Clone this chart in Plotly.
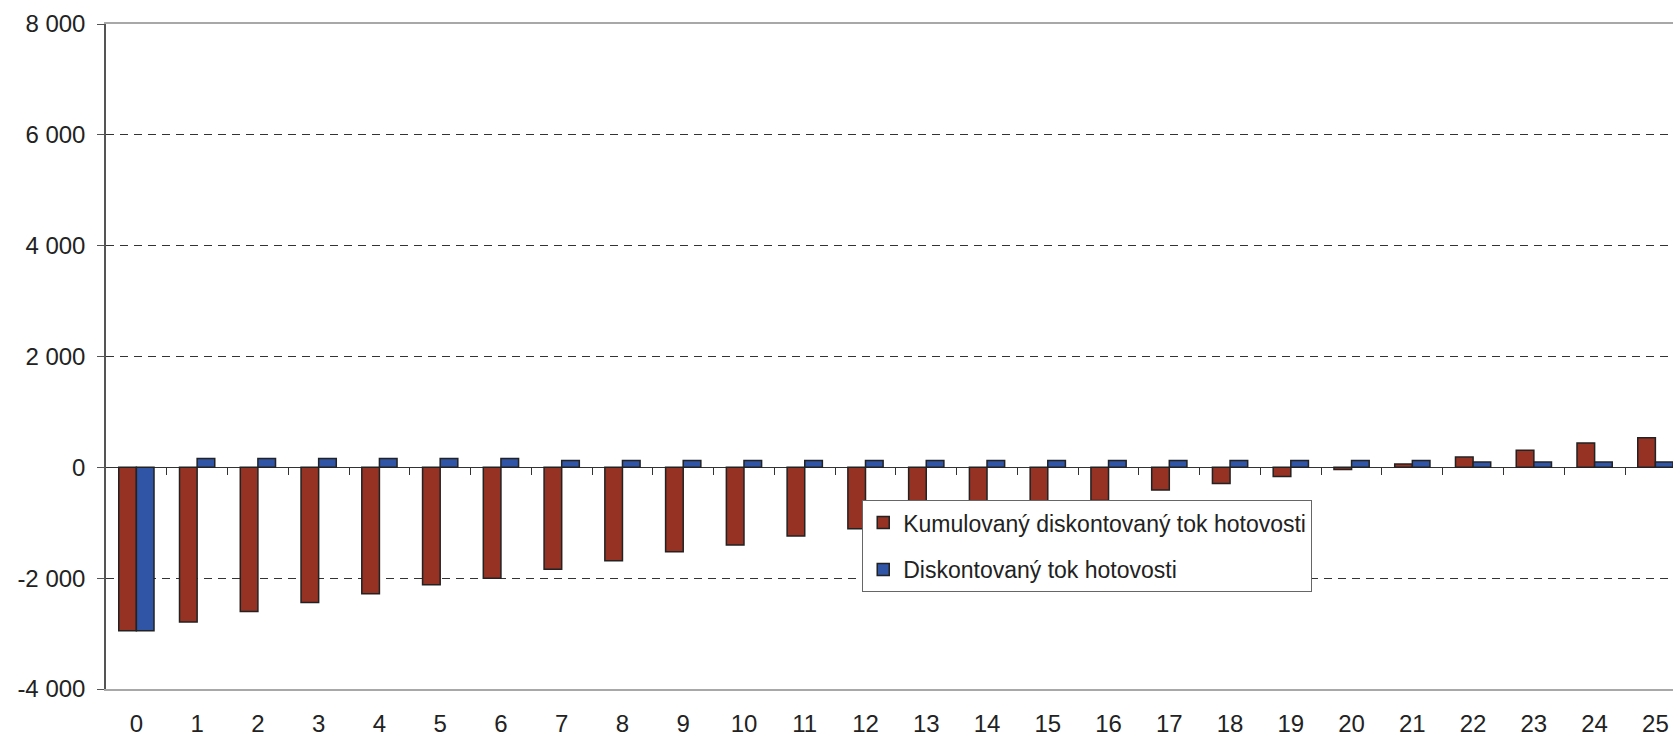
import plotly.graph_objects as go

# Data (thousands)
years = list(range(26))
cumulative = [-2950, -2790, -2600, -2440, -2280, -2120, -2000, -1840, -1685, -1525,
              -1400, -1240, -1110, -990, -860, -730, -600, -410, -290, -165,
              -40, 60, 185, 310, 440, 535]
discounted = [-2950, 160, 160, 160, 160, 160, 160, 125, 125, 125,
              125, 125, 125, 125, 125, 125, 125, 125, 125, 125,
              125, 125, 95, 95, 95, 95]
y_ticks = [-4000, -2000, 0, 2000, 4000, 6000, 8000]
y_ticktext = [f"{v:,}".replace(",", " ") for v in y_ticks]

RED = "#963223"
BLUE = "#3155A6"
OUTLINE = "#222222"
FONT = "Liberation Sans, Arial, sans-serif"

fig = go.Figure()
fig.add_trace(go.Bar(
    x=years, y=cumulative, name="Kumulovaný diskontovaný tok hotovosti",
    marker=dict(color=RED, line=dict(color=OUTLINE, width=1.5)),
    legendgroup="a",
))
fig.add_trace(go.Bar(
    x=years, y=discounted, name="Diskontovaný tok hotovosti",
    marker=dict(color=BLUE, line=dict(color=OUTLINE, width=1.5)),
    legendgroup="b",
))
# invisible carrier so the tick axis on the zero line gets drawn
fig.add_trace(go.Scatter(
    x=years, y=[0] * len(years), xaxis="x2", mode="markers",
    marker=dict(opacity=0), showlegend=False, hoverinfo="skip",
))

fig.update_layout(
    width=1673, height=738,
    barmode="group", bargap=0.42, bargroupgap=0,
    paper_bgcolor="white", plot_bgcolor="white",
    font=dict(family=FONT, size=23, color="#222222"),
    margin=dict(l=106, r=0, t=24, b=49, autoexpand=False),
    xaxis=dict(
        range=[-0.5, 25.29], tickvals=years, ticktext=[str(y) for y in years],
        showgrid=False, zeroline=False, ticks="", ticklabelstandoff=12,
        showline=True, mirror=True, linecolor="#a8a8a8", linewidth=1.5,
        tickfont=dict(size=24),
    ),
    xaxis2=dict(
        overlaying="x", anchor="free", position=1/3, matches="x",
        tickvals=[y + 0.5 for y in years], ticks="outside", ticklen=7,
        tickcolor="#333333", tickwidth=1, showticklabels=False,
        showgrid=False, zeroline=False, showline=False,
    ),
    yaxis=dict(
        range=[-4000, 8000], tickvals=y_ticks, ticktext=y_ticktext,
        showgrid=True, gridcolor="#333333", gridwidth=1, griddash="8px,6px",
        zeroline=True, zerolinecolor="#333333", zerolinewidth=1.2,
        showline=True, linecolor="#555555", linewidth=1.5,
        ticks="outside", ticklen=7, tickcolor="#555555", ticklabelstandoff=7,
        tickfont=dict(size=24),
    ),
    legend=dict(
        x=0.4826, y=0.284, xanchor="left", yanchor="top",
        bgcolor="white", bordercolor="#666666", borderwidth=1,
        font=dict(size=23, color="#222222"), tracegroupgap=14,
        traceorder="grouped",
    ),
    showlegend=True,
)

fig.write_html("out.html", config={"displayModeBar": False},
               post_script="document.body.style.margin='0';")
